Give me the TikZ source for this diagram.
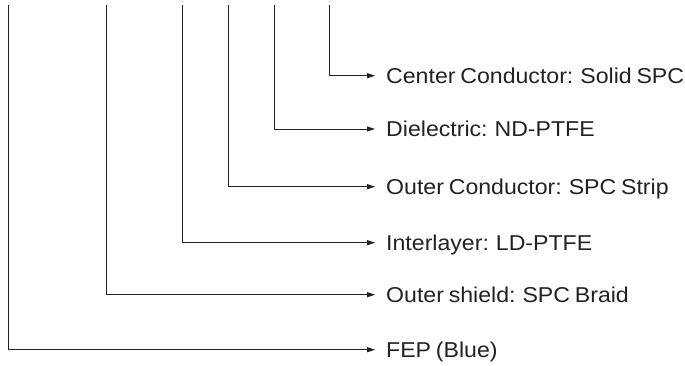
\documentclass[tikz,border=0pt]{standalone}
\usepackage{fontspec}
\setmainfont{Liberation Sans}[FakeStretch=1.075,WordSpace=0.75]
\usetikzlibrary{arrows.meta}
\definecolor{ink}{HTML}{222222}
\begin{document}
\begin{tikzpicture}[x=1pt,y=1pt,
  lbl/.style={anchor=west,inner sep=0pt,text height=15pt,text depth=0pt,font=\fontsize{21.5pt}{24pt}\selectfont,text=ink},
  conn/.style={draw=ink,line width=0.9pt,shorten >=11pt,-{Triangle[length=8pt,width=5pt]}}]
\useasboundingbox (0,0) rectangle (685,365);
% label nodes (y = 365 - pixel row)
\node[lbl] (l1) at (386,289.3) {Center Conductor: Solid SPC};
\node[lbl] (l2) at (386,236)   {Dielectric: ND-PTFE};
\node[lbl] (l3) at (386,178.3) {Outer Conductor: SPC Strip};
\node[lbl] (l4) at (386,122.3) {Interlayer: LD-PTFE};
\node[lbl] (l5) at (386,70.3)  {Outer shield: SPC Braid};
\node[lbl] (l6) at (386,15.3)  {FEP (Blue)};
% tops of the lead lines
\coordinate (t1) at (329.5,360);
\coordinate (t2) at (274.8,360);
\coordinate (t3) at (228.3,360);
\coordinate (t4) at (182.8,360);
\coordinate (t5) at (106.8,360);
\coordinate (t6) at (8.5,360);
\draw[conn] (t1) |- (l1.west);
\draw[conn] (t2) |- (l2.west);
\draw[conn] (t3) |- (l3.west);
\draw[conn] (t4) |- (l4.west);
\draw[conn] (t5) |- (l5.west);
\draw[conn] (t6) |- (l6.west);
\end{tikzpicture}
\end{document}
